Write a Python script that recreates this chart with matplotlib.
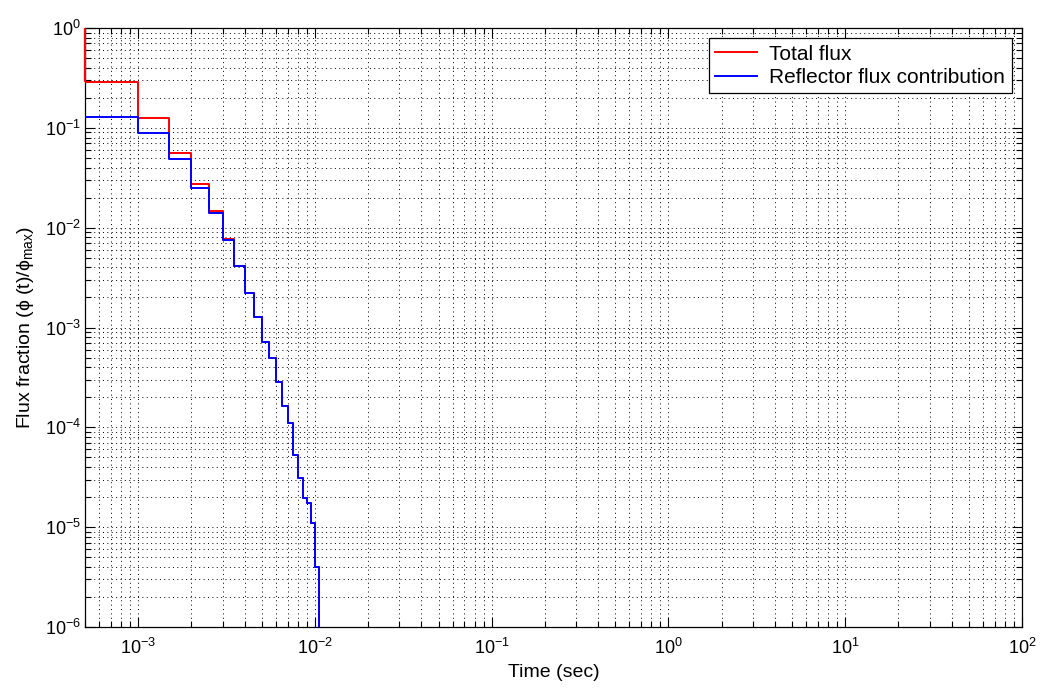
import numpy as np
import matplotlib
matplotlib.use('Agg')
import matplotlib.pyplot as plt

plt.rcParams['font.family'] = ['Liberation Sans', 'DejaVu Sans']
plt.rcParams['mathtext.fontset'] = 'custom'
plt.rcParams['mathtext.rm'] = 'Liberation Sans'
plt.rcParams['mathtext.it'] = 'Liberation Sans:italic'
plt.rcParams['mathtext.sf'] = 'Liberation Sans'

# bin edges in seconds (0.5 ms bins)
t_edges = [5e-4, 1e-3, 1.5e-3, 2e-3, 2.5e-3, 3e-3, 3.5e-3, 4e-3, 4.5e-3, 5e-3,
           5.5e-3, 6e-3, 6.5e-3, 7e-3, 7.5e-3, 8e-3, 8.5e-3, 9e-3, 9.5e-3,
           1e-2, 1.05e-2]

# flux fraction per bin
total_first = 1.0
total_flux = [0.29, 0.126, 0.056, 0.0275, 0.0147, 0.0077, 0.0041, 0.0022,
              0.00126, 7.2e-4, 4.9e-4, 2.86e-4, 1.63e-4, 1.11e-4, 5.3e-5,
              3.1e-5, 1.94e-5, 1.73e-5, 1.09e-5, 4.0e-6]
reflector_flux = [0.127, 0.088, 0.049, 0.025, 0.0139, 0.0076, 0.0041, 0.0022,
                  0.00126, 7.2e-4, 4.9e-4, 2.86e-4, 1.63e-4, 1.11e-4, 5.3e-5,
                  3.1e-5, 1.94e-5, 1.73e-5, 1.09e-5, 4.0e-6]

fig = plt.figure(figsize=(10.41, 6.93), dpi=100)
ax = fig.add_axes([0.0817, 0.0952, 0.9, 0.8644])

# stairs: the value after the last bin is zero
y_red = total_flux + [0]
y_blue = reflector_flux + [0]

ax.step(t_edges, y_red, where='post', color='#ff0000', lw=1.4, label='Total flux',
        zorder=3)
# drop from the first (off-axis) bin, sitting on the left edge
ax.vlines(t_edges[0], total_flux[0], total_first, color='#ff0000', lw=1.6,
          zorder=3, clip_on=False)
ax.step(t_edges, y_blue, where='post', color='#0000ff', lw=1.4,
        label='Reflector flux contribution', zorder=3.1)

ax.set_xscale('log')
ax.set_yscale('log')
ax.set_xlim(5e-4, 1e2)
ax.set_ylim(1e-6, 1)

ax.grid(True, which='both', color='k', linestyle=(0, (1, 3.5)), linewidth=0.7)
ax.tick_params(which='both', direction='in', top=True, right=True, labelsize=13)
ax.tick_params(which='major', length=7, width=0.8)
ax.tick_params(which='minor', length=4, width=0.8)
ax.tick_params(axis='x', pad=8)
ax.tick_params(axis='y', pad=3)
for s in ax.spines.values():
    s.set_linewidth(0.9)

ax.set_xlabel('Time (sec)', fontsize=14, labelpad=4)
ax.set_ylabel(r'Flux fraction (ϕ (t)/ϕ$_{\rm max}$)', fontsize=14, labelpad=6)

leg = ax.legend(loc='upper right', fontsize=15, fancybox=False, framealpha=1,
                edgecolor='k', handlelength=2.0, borderaxespad=0.5,
                borderpad=0.3, labelspacing=0.2, handletextpad=0.6)
leg.get_frame().set_linewidth(0.9)
leg.set_zorder(5)

fig.savefig('out.png', dpi=100)
